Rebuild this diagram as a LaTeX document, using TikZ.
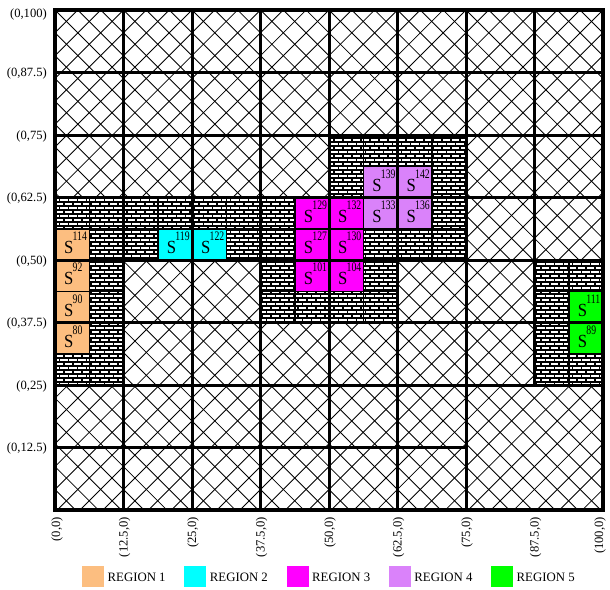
\documentclass[tikz,border=0pt]{standalone}
\usepackage{fontspec}
\setmainfont{Liberation Serif}
\usepackage{graphicx}
\definecolor{rOne}{RGB}{252,190,128}
\definecolor{rTwo}{RGB}{0,255,255}
\definecolor{rThree}{RGB}{255,0,255}
\definecolor{rFour}{RGB}{218,130,250}
\definecolor{rFive}{RGB}{0,255,0}
\tikzset{
  hatchline/.style={line width=0.85pt},
  brickline/.style={line width=1.3pt},
  subline/.style={line width=1.5pt},
  gridline/.style={line width=3pt},
  borderline/.style={line width=4pt},
  slabel/.style={anchor=base west, inner sep=0pt},
  axlabel/.style={font=\fontsize{12.6}{14}\selectfont, inner sep=0pt},
  leglabel/.style={font=\fontsize{12.8}{14}\selectfont, anchor=west, inner sep=0pt}
}
\begin{document}
\begin{tikzpicture}[x=1pt,y=-1pt]
\useasboundingbox (0,0) rectangle (610,589);
\fill[white] (0,0) rectangle (610,589);

% crosshatch over the whole grid
\begin{scope}
\clip (55,10) rectangle (603,510);
\draw[hatchline] \foreach \k in {-23,...,25} { ({55+\k*22.83},10) -- ++(500,500) };
\draw[hatchline] \foreach \k in {0,...,47} { ({55+\k*22.83},10) -- ++(-500,500) };
\end{scope}

% brick cells
\begin{scope}
\clip \foreach \i/\j in {4/5,5/5,0/4,1/4,2/4,3/4,4/4,5/4,0/3,3/3,4/3,7/3,0/2,7/2}
  { ({55+\i*68.5},{510-(\j+1)*62.5}) rectangle ++(68.5,62.5) };
\fill[white] (55,10) rectangle (603,510);
\draw[brickline] \foreach \r in {0,...,125} { (55,{10+\r*4}) -- (603,{10+\r*4}) };
\draw[brickline, dash pattern=on 4pt off 4pt] \foreach \k in {0,...,61} { ({55+\k*9},10) -- ({55+\k*9},510) };
\draw[brickline, dash pattern=on 4pt off 4pt, dash phase=4pt] \foreach \k in {0,...,61} { ({59.5+\k*9},10) -- ({59.5+\k*9},510) };
\end{scope}

% coloured sub-cells
\foreach \a/\b/\c in {0/8/rOne,0/7/rOne,0/6/rOne,0/5/rOne,
  3/8/rTwo,4/8/rTwo,
  7/9/rThree,7/8/rThree,8/9/rThree,8/8/rThree,7/7/rThree,8/7/rThree,
  9/9/rFour,10/9/rFour,9/10/rFour,10/10/rFour,
  15/6/rFive,15/5/rFive}
  { \fill[\c] ({55+\a*34.25},{510-(\b+1)*31.25}) rectangle ++(34.25,31.25); }

% sub-cell dividers
\draw[subline] \foreach \i/\j in {4/5,5/5,0/4,1/4,2/4,3/4,4/4,5/4,0/3,3/3,4/3,7/3,0/2,7/2}
  { ({55+\i*68.5+34.25},{510-(\j+1)*62.5}) -- ++(0,62.5)
    ({55+\i*68.5},{510-(\j+1)*62.5+31.25}) -- ++(68.5,0) };

% main grid
\draw[gridline] \foreach \i in {1,...,6} { ({55+\i*68.5},10) -- ({55+\i*68.5},510) };
\draw[gridline] (534.5,10) -- (534.5,385);
\draw[gridline] \foreach \j in {2,...,7} { (55,{510-\j*62.5}) -- (603,{510-\j*62.5}) };
\draw[gridline] (55,447.5) -- (466,447.5);
\draw[borderline] (55,10) rectangle (603,510);

% S labels
\foreach \a/\b/\n in {0/8/114,0/7/92,0/6/90,0/5/80,3/8/119,4/8/122,
  7/9/129,7/8/127,8/9/132,8/8/130,7/7/101,8/7/104,
  9/9/133,10/9/136,9/10/139,10/10/142,15/6/111,15/5/89}
  { \node[slabel] (s\n) at ({55+\a*34.25+9},{510-\b*31.25-6.5})
      {\fontsize{18.5}{18.5}\selectfont\scalebox{0.9}[1]{S}\kern-0.8pt\raisebox{13pt}{\fontsize{13}{13}\selectfont\scalebox{0.75}[1]{\n}}}; }

% row labels
\foreach \y/\t [count=\q] in {14/{(0,100)},73.5/{(0,87.5)},136/{(0,75)},198.5/{(0,62.5)},
  261/{(0,50)},323.5/{(0,37.5)},386/{(0,25)},448.5/{(0,12.5)}}
  { \node[axlabel, anchor=east] (row\q) at (47,\y) {\t}; }

% column labels
\foreach \x/\t [count=\q] in {57/{(0,0)},124.5/{(12.5,0)},193/{(25,0)},261.5/{(37.5,0)},
  330/{(50,0)},398.5/{(62.5,0)},467/{(75,0)},535.5/{(87.5,0)},600/{(100,0)}}
  { \node[axlabel, anchor=east, rotate=90] (col\q) at (\x,517) {\t}; }

% legend
\foreach \k/\c/\n in {0/rOne/1,1/rTwo/2,2/rThree/3,3/rFour/4,4/rFive/5}
  { \fill[\c] ({82+\k*102.25},566) rectangle ++(22,21);
    \node[leglabel] (leg\n) at ({107.5+\k*102.25},577.5) {REGION \n}; }
\end{tikzpicture}
\end{document}
